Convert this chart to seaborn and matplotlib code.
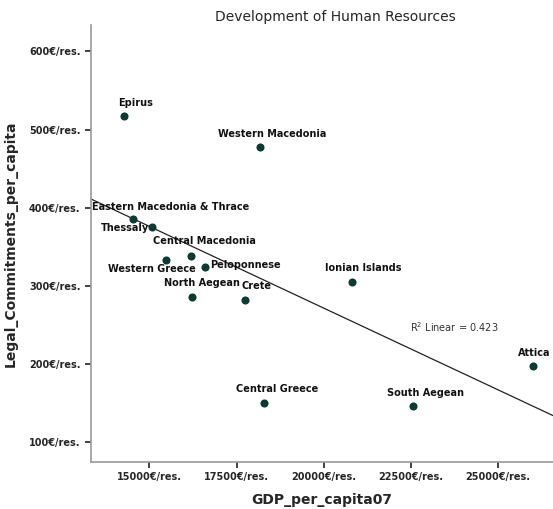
import numpy as np
import pandas as pd
import seaborn as sns
import matplotlib.pyplot as plt
from matplotlib.ticker import FuncFormatter

# Regional data
regions = ['Epirus', 'Western Macedonia', 'Eastern Macedonia & Thrace', 'Thessaly',
           'Central Macedonia', 'Western Greece', 'Peloponnese', 'North Aegean',
           'Crete', 'Central Greece', 'Ionian Islands', 'South Aegean', 'Attica']
gdp = [14270, 18170, 14540, 15070, 16190, 15470, 16590, 16230,
       17740, 18290, 20800, 22570, 26000]
legal = [517, 477, 385, 375, 338, 333, 324, 285, 281, 150, 305, 146, 197]

# label offsets (points) relative to each marker
offsets = [(8, 6), (9, 6), (27, 5), (-19, -4), (10, 7), (-10, -10), (29, -2), (7, 7),
           (8, 7), (9, 6), (8, 6), (9, 6), (1, 6)]

df = pd.DataFrame({'region': regions, 'gdp': gdp, 'legal': legal})

sns.set_style('white')
fig = plt.figure(figsize=(5.53, 5.09), dpi=100)
ax = fig.add_axes([0.1646, 0.093, 0.8354, 0.858])
ax.set_xlim(13325, 26570)
ax.set_ylim(74.5, 634)

sns.regplot(data=df, x='gdp', y='legal', ax=ax, ci=None, truncate=False,
            scatter_kws={'s': 34, 'color': '#0e3b30', 'alpha': 1,
                         'linewidths': 0, 'zorder': 3},
            line_kws={'color': '#222222', 'linewidth': 0.9})

for r, x, y, (dx, dy) in zip(regions, gdp, legal, offsets):
    ax.annotate(r, (x, y), xytext=(dx, dy), textcoords='offset points',
                ha='center', va='bottom', fontsize=7, fontweight='bold', color='#111111')

ax.text(0.69, 0.296, r'R$^2$ Linear = 0.423', transform=ax.transAxes,
        fontsize=7, color='#333333')

ax.set_xticks([15000, 17500, 20000, 22500, 25000])
ax.set_yticks([100, 200, 300, 400, 500, 600])
ax.xaxis.set_major_formatter(FuncFormatter(lambda v, p: f'{v:.0f}€/res.'))
ax.yaxis.set_major_formatter(FuncFormatter(lambda v, p: f'{v:.0f}€/res.'))
ax.tick_params(axis='both', labelsize=7, length=4, width=1.2, color='#222222',
               direction='out', bottom=True, left=True)
for lab in ax.get_xticklabels() + ax.get_yticklabels():
    lab.set_fontweight('bold')

for s in ['top', 'right']:
    ax.spines[s].set_visible(False)
for s in ['left', 'bottom']:
    ax.spines[s].set_color('#999999')
    ax.spines[s].set_linewidth(1.2)

ax.set_xlabel('GDP_per_capita07', fontsize=10, fontweight='bold', labelpad=8)
ax.set_ylabel('Legal_Commitments_per_capita', fontsize=10, fontweight='bold', labelpad=8)
fig.text(0.607, 0.958, 'Development of Human Resources', ha='center', fontsize=10)

fig.savefig('out.png', dpi=100)
